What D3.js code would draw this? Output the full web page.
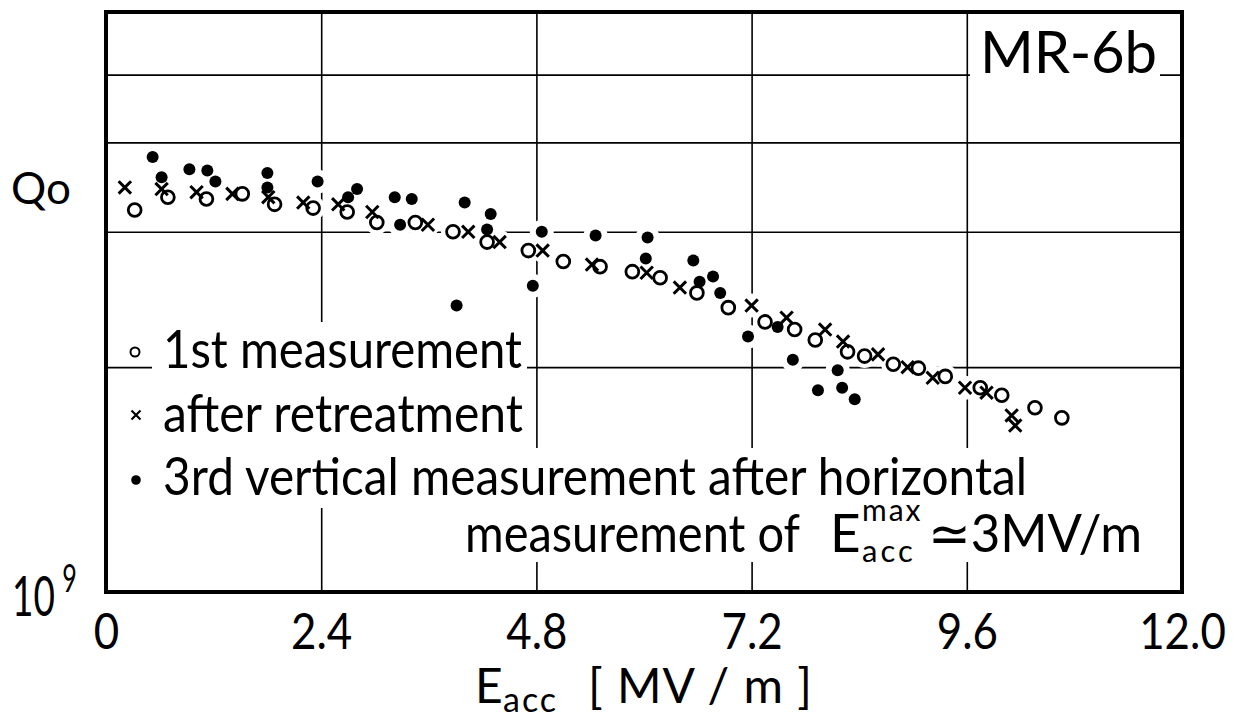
<!DOCTYPE html>
<html lang="en">
<head>
<meta charset="UTF-8">
<title>MR-6b Q0 vs Eacc</title>
<script src="https://cdn.jsdelivr.net/npm/d3@7"></script>
<style>
  body { margin: 0; background: #fff; }
  svg { display: block; }
  text { font-family: Lato, "DejaVu Sans", sans-serif; font-weight: 400; fill: #000; }
  .grid line { stroke: #000; stroke-width: 1.6; }
</style>
</head>
<body>
<div id="chart"></div>
<script>
// E_acc [MV/m] and Q0, one pair of arrays per run
const firstE = [0.32, 0.69, 1.12, 1.52, 1.88, 2.31, 2.69, 3.02, 3.45, 3.87, 4.25, 4.71, 5.10, 5.51, 5.87,
                6.18, 6.59, 6.94, 7.35, 7.68, 7.91, 8.27, 8.46, 8.78, 9.06, 9.36, 9.75, 9.99, 10.36, 10.66];
const firstQ = [5.0e10, 5.7e10, 5.6e10, 5.9e10, 5.3e10, 5.1e10, 4.9e10, 4.4e10, 4.4e10, 4.0e10, 3.6e10, 3.3e10, 2.95e10, 2.8e10, 2.66e10,
                2.5e10, 2.14e10, 1.84e10, 1.59e10, 1.47e10, 1.32e10, 1.17e10, 1.12e10, 1.03e10, 9.9e9, 9.1e9, 8.1e9, 7.5e9, 6.6e9, 5.95e9];

const retreatE = [0.21, 0.62, 1.01, 1.41, 1.81, 2.20, 2.59, 2.97, 3.59, 4.04, 4.39, 4.87, 5.42, 6.03, 6.40,
                  7.20, 7.59, 8.02, 8.22, 8.61, 8.94, 9.22, 9.58, 9.82, 10.10, 10.14];
const retreatQ = [6.3e10, 6.2e10, 6.0e10, 5.9e10, 5.7e10, 5.4e10, 5.3e10, 4.9e10, 4.3e10, 4.0e10, 3.6e10, 3.3e10, 2.86e10, 2.63e10, 2.26e10,
                  1.88e10, 1.66e10, 1.47e10, 1.30e10, 1.14e10, 1.0e10, 8.97e9, 8.1e9, 7.7e9, 6.1e9, 5.5e9];

const thirdE = [0.52, 0.62, 0.93, 1.13, 1.22, 1.80, 1.80, 2.36, 2.70, 2.80, 3.22, 3.41, 3.28, 3.91, 4.00, 4.29, 4.25,
                4.86, 4.76, 5.46, 6.04, 6.02, 6.55, 6.62, 6.77, 6.85, 7.16, 7.49, 7.66, 8.16, 7.94, 8.21, 8.35];
const thirdQ = [8.6e10, 7.0e10, 7.6e10, 7.5e10, 6.7e10, 7.3e10, 6.3e10, 6.7e10, 5.7e10, 6.2e10, 5.7e10, 5.6e10, 4.3e10, 1.88e10, 5.4e10, 4.8e10, 4.1e10,
                4.0e10, 2.3e10, 3.85e10, 3.77e10, 3.04e10, 2.98e10, 2.4e10, 2.53e10, 2.14e10, 1.37e10, 1.51e10, 1.08e10, 9.7e9, 7.9e9, 8.1e9, 7.2e9];

const xTicks = [0, 2.4, 4.8, 7.2, 9.6, 12.0];
const xTickLabels = ["0", "2.4", "4.8", "7.2", "9.6", "12.0"];
const qGrid = [1e10, 4e10, 1e11, 2e11];

const width = 1237, height = 721;
const plotL = 106, plotR = 1182, plotT = 12, plotB = 592;

const x = d3.scaleLinear().domain([0, 12]).range([plotL, plotR]);
const y = d3.scaleLog().domain([1e9, 3.8e11]).range([plotB, plotT]);

const svg = d3.select("#chart").append("svg")
    .attr("width", width)
    .attr("height", height);

const gGrid = svg.append("g");
const gMask = svg.append("g");
const gMarks = svg.append("g");
const gText = svg.append("g");

// grid lines
gGrid.append("g").attr("class", "grid")
    .attr("transform", `translate(0,${plotB})`)
    .call(d3.axisBottom(x).tickValues(xTicks.slice(1, -1)).tickSize(-(plotB - plotT)).tickFormat(""))
    .call(g => g.select(".domain").remove());
gGrid.append("g").attr("class", "grid")
    .attr("transform", `translate(${plotL},0)`)
    .call(d3.axisLeft(y).tickValues(qGrid).tickSize(-(plotR - plotL)).tickFormat(""))
    .call(g => g.select(".domain").remove());

// markers, with white knock-outs that break the grid around them
const series = [
    { E: firstE, Q: firstQ, kind: "open" },
    { E: retreatE, Q: retreatQ, kind: "cross" },
    { E: thirdE, Q: thirdQ, kind: "dot" }
];
series.forEach(s => {
    gMask.selectAll(null).data(d3.range(s.E.length)).enter().append("circle")
        .attr("cx", i => x(s.E[i])).attr("cy", i => y(s.Q[i]))
        .attr("r", 12).attr("fill", "#fff");
});
const crossPath = r => `M${-r},${-r}L${r},${r}M${-r},${r}L${r},${-r}`;
series.forEach(s => {
    const sel = gMarks.selectAll(null).data(d3.range(s.E.length)).enter();
    if (s.kind === "open") {
        sel.append("circle")
            .attr("cx", i => x(s.E[i])).attr("cy", i => y(s.Q[i]))
            .attr("r", 6.4).attr("fill", "none").attr("stroke", "#000").attr("stroke-width", 2.8);
    } else if (s.kind === "cross") {
        sel.append("path")
            .attr("transform", i => `translate(${x(s.E[i])},${y(s.Q[i])})`)
            .attr("d", crossPath(6.2)).attr("fill", "none").attr("stroke", "#000").attr("stroke-width", 3);
    } else {
        sel.append("circle")
            .attr("cx", i => x(s.E[i])).attr("cy", i => y(s.Q[i]))
            .attr("r", 6).attr("fill", "#000");
    }
});

// text with a white box behind it so the grid is cut
function label(str, px, py, size, len, adjust) {
    const t = gText.append("text").attr("x", px).attr("y", py)
        .attr("font-size", size).text(str);
    if (len) t.attr("textLength", len).attr("lengthAdjust", adjust || "spacingAndGlyphs");
    return t;
}
function blank(x0, x1, y0, y1) {
    gMask.append("rect").attr("x", x0).attr("y", y0)
        .attr("width", x1 - x0).attr("height", y1 - y0).attr("fill", "#fff");
}

// legend
label("1st measurement", 163, 368, 53, 359);
blank(152, 527, 322, 384);
label("after retreatment", 163, 432, 53, 360);
blank(152, 528, 384, 448);

// third entry runs over two lines; one text element for both
const l3 = gText.append("text").attr("font-size", 53);
l3.append("tspan").attr("x", 163).attr("y", 495)
    .attr("textLength", 864).attr("lengthAdjust", "spacingAndGlyphs")
    .text("3rd vertical measurement after horizontal");
l3.append("tspan").attr("x", 465).attr("y", 552)
    .attr("textLength", 335).attr("lengthAdjust", "spacingAndGlyphs")
    .text("measurement of");
l3.append("tspan").attr("x", 830).attr("y", 552).text("E");
l3.append("tspan").attr("x", 862).attr("y", 521).attr("font-size", 30)
    .attr("letter-spacing", 2).text("max");
l3.append("tspan").attr("x", 862).attr("y", 562).attr("font-size", 31)
    .attr("letter-spacing", 3).text("acc");
l3.append("tspan").attr("x", 928).attr("y", 552)
    .attr("textLength", 214).attr("lengthAdjust", "spacingAndGlyphs")
    .text("\u22433MV/m");
blank(152, 1032, 448, 508);
blank(457, 1148, 500, 562);

gText.append("circle").attr("cx", 135).attr("cy", 352).attr("r", 4.5)
    .attr("fill", "none").attr("stroke", "#000").attr("stroke-width", 2);
gText.append("path").attr("transform", "translate(136,415)").attr("d", crossPath(4.5))
    .attr("stroke", "#000").attr("stroke-width", 2.2);
gText.append("circle").attr("cx", 136).attr("cy", 480).attr("r", 4.8).attr("fill", "#000");

// sample name
label("MR-6b", 980, 73, 58, 177, "spacing");
blank(970, 1160, 22, 78);

// frame
gText.append("rect")
    .attr("x", plotL).attr("y", plotT)
    .attr("width", plotR - plotL).attr("height", plotB - plotT)
    .attr("fill", "none").attr("stroke", "#000").attr("stroke-width", 4);

// x axis labels
const xAxis = gText.append("g")
    .attr("transform", `translate(0,${plotB})`)
    .call(d3.axisBottom(x).tickValues(xTicks).tickSize(0)
        .tickFormat((d, i) => xTickLabels[i]));
xAxis.select(".domain").remove();
xAxis.attr("font-family", null).attr("font-size", null);
xAxis.selectAll("text")
    .attr("y", 57).attr("dy", 0)
    .attr("font-size", 51)
    .attr("transform", "scale(0.86,1)");

// y axis labels
const q = gText.append("text").attr("x", 11).attr("y", 204).attr("font-size", 44);
q.append("tspan").text("Q");
q.append("tspan").text("o");
// 10^9, squeezed horizontally like the lettering in the plot
const dec = gText.append("text").attr("font-size", 56)
    .attr("transform", "translate(12,0) scale(0.66,1)");
dec.append("tspan").attr("x", 0).attr("y", 616).text("10");
dec.append("tspan").attr("x", 76).attr("y", 592).attr("font-size", 38).text("9");

// x axis title
const title = gText.append("text").attr("font-size", 48);
title.append("tspan").attr("x", 475).attr("y", 703).text("E");
title.append("tspan").attr("x", 503).attr("y", 712).attr("font-size", 34)
    .attr("letter-spacing", 2).text("acc");
title.append("tspan").attr("x", 588).attr("y", 703)
    .attr("letter-spacing", 1).text("[ MV / m ]");
</script>
</body>
</html>
